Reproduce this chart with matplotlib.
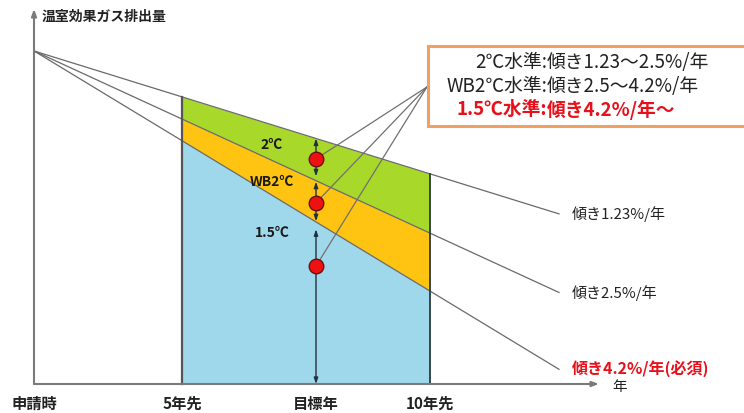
import matplotlib
matplotlib.use('Agg')
import matplotlib.pyplot as plt
import numpy as np
from matplotlib.patches import Rectangle

plt.rcParams['font.family'] = ['Noto Sans CJK JP', 'DejaVu Sans']

# ---- data (schematic) ----
tick_labels = ['申請時', '5年先', '目標年', '10年先']
tick_pos = [0, 148, 282, 396]
start_value = 100
values_at_10y = [63.1, 45.3, 27.9]          # lines: 1.23%, 2.5%, 4.2% per year
line_labels = ['傾き1.23%/年', '傾き2.5%/年', '傾き4.2%/年(必須)']
line_label_colors = ['#222222', '#222222', '#e8101a']
band_labels = ['2℃', 'WB2℃', '1.5℃']
band_colors = ['#a8d82a', '#ffc311', '#9fd8ea']
marker_values = [67.6, 54.4, 35.4]
legend_names = ['2℃水準:', 'WB2℃水準:', '1.5℃水準:']
legend_texts = ['傾き1.23～2.5%/年', '傾き2.5～4.2%/年', '傾き4.2%/年～']
legend_colors = ['#222222', '#222222', '#e8101a']
y_label = '温室効果ガス排出量'
x_label = '年'

x10 = tick_pos[3]
x5 = tick_pos[1]
xt = tick_pos[2]
x_end = 525


def line_y(i, x):
    return start_value - (start_value - values_at_10y[i]) * np.asarray(x) / x10


fig = plt.figure(figsize=(7.44, 4.14), dpi=100)
ax = fig.add_axes([0, 0, 1, 1])
ax.set_xlim(-34, 710)
ax.set_ylim(-8.71, 115.6)
ax.axis('off')

# bands between 5年先 and 10年先
xs = np.linspace(x5, x10, 50)
ax.fill_between(xs, line_y(1, xs), line_y(0, xs), color=band_colors[0], lw=0, zorder=1)
ax.fill_between(xs, line_y(2, xs), line_y(1, xs), color=band_colors[1], lw=0, zorder=1)
ax.fill_between(xs, 0, line_y(2, xs), color=band_colors[2], lw=0, zorder=1)

# vertical boundaries
ax.plot([x5, x5], [0, line_y(0, x5)], color='#555555', lw=1.6, zorder=3)
ax.plot([x10, x10], [0, line_y(0, x10)], color='#2b3b3b', lw=1.3, zorder=3)

# slope lines from origin
for i in range(3):
    ax.plot([0, x_end], [start_value, line_y(i, x_end)], color='#6a6a6a', lw=0.9, zorder=2)

# axes with arrows
ax.annotate('', xy=(0, 112.6), xytext=(0, 0),
            arrowprops=dict(arrowstyle='-|>,head_length=0.4,head_width=0.15', color='#7a7a7a', lw=1.5, shrinkA=0, shrinkB=0), zorder=4)
ax.annotate('', xy=(565, 0), xytext=(0, 0),
            arrowprops=dict(arrowstyle='-|>,head_length=0.4,head_width=0.15', color='#7a7a7a', lw=1.5, shrinkA=0, shrinkB=0), zorder=4)

# double arrows at 目標年
gap = 1.3
segs = [(line_y(0, xt), line_y(1, xt) + gap),
        (line_y(1, xt) - 0.3, line_y(2, xt) + 0.2),
        (line_y(2, xt) - 2.2, 0)]
for top, bot in segs:
    ax.annotate('', xy=(xt, bot), xytext=(xt, top),
                arrowprops=dict(arrowstyle='<|-|>,head_length=0.35,head_width=0.12', color='#22313f', lw=1.0,
                                shrinkA=0, shrinkB=0), zorder=5)

# callout lines from markers to box
anchor = (393, 89.2)
for v in marker_values:
    ax.plot([xt, anchor[0]], [v, anchor[1]], color='#707070', lw=0.9, zorder=4)
ax.scatter([xt] * 3, marker_values, s=110, color='#ee1111', edgecolors='#6a1010', linewidths=1.0, zorder=6)

# band labels
for lab, yv in zip(band_labels, [72.0, 61.0, 45.6]):
    ax.text(238, yv, lab, ha='center', va='center', fontsize=10, fontweight='bold', color='#1a1a1a', zorder=7)

# line end labels
for lab, col, yv in zip(line_labels, line_label_colors, [51.4, 27.6, 4.8]):
    red = col != '#222222'
    ax.text(538, yv, lab, ha='left', va='center', fontsize=11.5 if red else 10.8, color=col,
            fontweight='bold' if red else 'normal', zorder=7)

# axis labels
ax.text(578, -0.6, x_label, ha='left', va='center', fontsize=10.5, color='#222222')
ax.text(8, 110.5, y_label, ha='left', va='center', fontsize=10, fontweight='bold', color='#222222')

# tick labels
for lab, xp in zip(tick_labels, tick_pos):
    ax.text(xp, -5.7, lab, ha='center', va='center', fontsize=11, fontweight='bold', color='#222222')

# legend box
box = Rectangle((394, 77.5), 360, 24, facecolor='white', edgecolor='#f0a060', lw=2.2, zorder=6, clip_on=False)
ax.add_patch(box)
colon_x = 513
for name, txt, col, yv in zip(legend_names, legend_texts, legend_colors, [96.7, 89.5, 82.6]):
    w = 'bold' if col != '#222222' else 'normal'
    ax.text(colon_x, yv, name, ha='right', va='center', fontsize=13.5, color=col, fontweight=w, zorder=7)
    ax.text(colon_x, yv, txt, ha='left', va='center', fontsize=13.5, color=col, fontweight=w, zorder=7)

fig.savefig('out.png', dpi=100)
